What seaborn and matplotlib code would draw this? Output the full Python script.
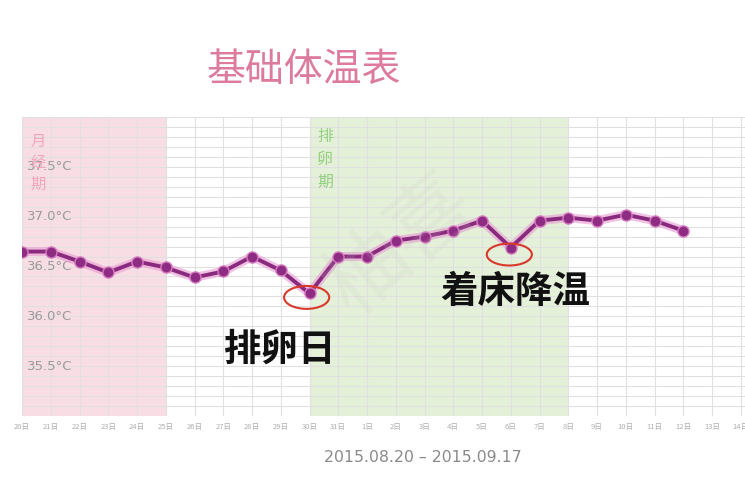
import numpy as np
import pandas as pd
import matplotlib
matplotlib.use("Agg")
import matplotlib.pyplot as plt
from matplotlib.patches import Ellipse
import seaborn as sns

# ---- data ----
day_labels = ['20日', '21日', '22日', '23日', '24日', '25日', '26日', '27日', '28日',
              '29日', '30日', '31日', '1日', '2日', '3日', '4日', '5日', '6日', '7日',
              '8日', '9日', '10日', '11日', '12日', '13日', '14日']
temps = [36.65, 36.65, 36.55, 36.44, 36.55, 36.49, 36.39, 36.45, 36.60, 36.46,
         36.23, 36.60, 36.60, 36.76, 36.80, 36.86, 36.96, 36.69, 36.96, 36.99,
         36.96, 37.02, 36.96, 36.86]
ytick_vals = [35.5, 36.0, 36.5, 37.0, 37.5]
ytick_text = ['35.5°C', '36.0°C', '36.5°C', '37.0°C', '37.5°C']
period_menses = (0, 5)      # 月经期
period_ovul = (10, 19)      # 排卵期

df = pd.DataFrame({'day': np.arange(len(temps)), 'temp': temps})

sns.set_theme(style='white')
plt.rcParams['font.family'] = ['Noto Sans CJK SC', 'DejaVu Sans']
plt.rcParams['axes.unicode_minus'] = False

W, H = 745, 500
fig = plt.figure(figsize=(W / 100, H / 100), dpi=100)
fig.patch.set_facecolor('white')

# axes: left at px 22, top at 117, bottom at 416, 28.75 px per day
x0, top, bot, dx = 22, 117, 416, 28.75
ncols = 26
ax = fig.add_axes([x0 / W, 1 - bot / H, ncols * dx / W, (bot - top) / H])
ax.set_xlim(0, ncols)
ax.set_ylim(35.0, 38.0)

# shaded periods
ax.axvspan(*period_menses, color='#f9dde5', zorder=0, lw=0)
ax.axvspan(*period_ovul, color='#e4f0d8', zorder=0, lw=0)

# grid
ax.set_xticks(np.arange(0, ncols + 1))
ax.set_xticklabels(day_labels + [''] * (ncols + 1 - len(day_labels)))
ax.set_yticks(np.round(np.arange(35.0, 38.01, 0.1), 1))
ax.set_yticklabels([])
ax.grid(True, color='#e0e0e0', lw=0.8, zorder=1)
ax.set_axisbelow(True)
for s in ax.spines.values():
    s.set_visible(False)
ax.tick_params(axis='x', length=0, pad=5, labelsize=5.5, labelcolor='#b0b0b0')
ax.tick_params(axis='y', length=0)

# glow under line
ax.plot(df['day'], df['temp'], color='#e79bd2', lw=6.5, alpha=0.6, zorder=3,
        solid_capstyle='round')
sns.lineplot(data=df, x='day', y='temp', ax=ax, color='#8a2a7e', lw=2.8,
             marker='o', markersize=8, markerfacecolor='#8e2b82',
             markeredgecolor='#d77cc0', markeredgewidth=1.0, zorder=4)
ax.set_xlabel('')
ax.set_ylabel('')

# y labels inside plot
for v, t in zip(ytick_vals, ytick_text):
    ax.text(0.18, v, t, ha='left', va='center', fontsize=9.5, color='#9a9a9a',
            family=['DejaVu Sans'], zorder=2)

# period labels
ax.text(0.55, 37.84, '月\n经\n期', ha='center', va='top', fontsize=11,
        color='#f2a5bd', linespacing=1.35, zorder=2)
ax.text(10.55, 37.89, '排\n卵\n期', ha='center', va='top', fontsize=11.5,
        color='#93d07f', linespacing=1.45, zorder=2)

# red ellipses
ax.add_patch(Ellipse((9.9, 36.19), 1.57, 0.23, fill=False, ec='#d8392b',
                     lw=1.5, zorder=5))
ax.add_patch(Ellipse((16.95, 36.62), 1.57, 0.22, fill=False, ec='#d8392b',
                     lw=1.5, zorder=5))

# faint watermark
fig.text(400 / W, 1 - 245 / H, '柚喜', fontsize=60, color='#c8c8c8', alpha=0.15,
         rotation=40, ha='center', va='center')

# annotations
fig.text(280 / W, 1 - 349 / H, '排卵日', fontsize=27, fontweight='bold',
         color='#111111', ha='center', va='center')
fig.text(515 / W, 1 - 291 / H, '着床降温', fontsize=27, fontweight='bold',
         color='#111111', ha='center', va='center')

# title and date range
fig.text(304 / W, 1 - 70 / H, '基础体温表', fontsize=28, color='#dc7b9c',
         ha='center', va='center')
fig.text(423 / W, 1 - 457 / H, '2015.08.20 – 2015.09.17', fontsize=11.3,
         color='#8a8a8a', ha='center', va='center', family=['DejaVu Sans'])

fig.savefig('out.png', dpi=100)
